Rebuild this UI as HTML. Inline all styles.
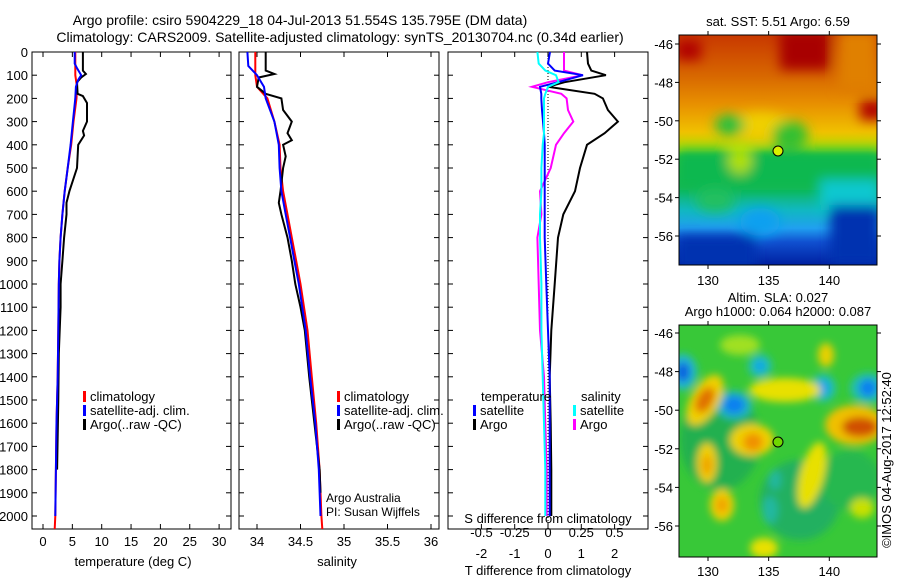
<!DOCTYPE html>
<html><head><meta charset="utf-8"><style>
body{margin:0;background:#fff;}
svg{display:block;font-family:"Liberation Sans",sans-serif;}
</style></head><body>
<svg id="c" width="900" height="580" viewBox="0 0 900 580" xmlns="http://www.w3.org/2000/svg">
<defs>
<filter id="bl" x="-50%" y="-50%" width="200%" height="200%"><feGaussianBlur stdDeviation="6"/></filter>
<filter id="bl2" x="-50%" y="-50%" width="200%" height="200%"><feGaussianBlur stdDeviation="4"/></filter>
<clipPath id="cm1"><rect x="679" y="35" width="198" height="230"/></clipPath>
<clipPath id="cm2"><rect x="679" y="325" width="198" height="232"/></clipPath>
<linearGradient id="sstg" x1="0" y1="0" x2="0" y2="1">
<stop offset="0" stop-color="#c83800"/><stop offset="0.18" stop-color="#d86800"/><stop offset="0.3" stop-color="#e89000"/>
<stop offset="0.42" stop-color="#f0c000"/><stop offset="0.5" stop-color="#b0e000"/><stop offset="0.53" stop-color="#30c830"/><stop offset="0.66" stop-color="#10b858"/>
<stop offset="0.76" stop-color="#10b8c0"/><stop offset="0.84" stop-color="#20a0f0"/><stop offset="0.9" stop-color="#1050d0"/><stop offset="1" stop-color="#0020a0"/>
</linearGradient>
</defs>
<text x="300" y="25" font-size="14" text-anchor="middle">Argo profile: csiro 5904229_18 04-Jul-2013 51.554S 135.795E (DM data)</text>
<text x="340" y="42" font-size="14" text-anchor="middle">Climatology: CARS2009. Satellite-adjusted climatology: synTS_20130704.nc (0.34d earlier)</text>
<g id="plots"></g>
<g id="maps">
 <g clip-path="url(#cm1)">
  <rect x="679" y="35" width="198" height="230" fill="url(#sstg)"/>
  <g filter="url(#bl)">
   <rect x="780" y="30" width="50" height="40" fill="#a80000"/>
   <rect x="676" y="40" width="25" height="20" fill="#b00000"/>
   <rect x="860" y="100" width="25" height="20" fill="#b00000"/>
   <rect x="838" y="30" width="40" height="60" fill="#e08000"/>
   <ellipse cx="760" cy="125" rx="30" ry="12" fill="#f0d000"/>
   <ellipse cx="730" cy="125" rx="15" ry="10" fill="#20c040"/>
   <ellipse cx="790" cy="135" rx="18" ry="14" fill="#30c030"/>
   <rect x="676" y="150" width="205" height="40" fill="#10b850"/>
   <ellipse cx="740" cy="160" rx="12" ry="14" fill="#b0e000"/>
   <rect x="820" y="180" width="60" height="30" fill="#10c8d0"/>
   <rect x="830" y="205" width="50" height="60" fill="#0030b0"/>
   <rect x="676" y="235" width="80" height="35" fill="#0030b0"/>
   <ellipse cx="760" cy="222" rx="20" ry="14" fill="#10a0f0"/>
   <ellipse cx="715" cy="200" rx="20" ry="12" fill="#20c060"/>
  </g>
  <circle cx="778" cy="151" r="5" fill="#d8f000" stroke="#000" stroke-width="1"/>
 </g>
 <rect x="679" y="35" width="198" height="230" fill="none" stroke="#000"/>
 <g clip-path="url(#cm2)">
  <rect x="679" y="325" width="198" height="232" fill="#38c838"/>
  <g filter="url(#bl2)">
   <ellipse cx="720" cy="440" rx="40" ry="50" fill="#20b050"/>
   <ellipse cx="800" cy="500" rx="40" ry="40" fill="#20b060"/>
   <ellipse cx="850" cy="480" rx="30" ry="30" fill="#28b850"/>
   <ellipse cx="683" cy="372" rx="14" ry="18" fill="#20b8d0"/>
   <ellipse cx="683" cy="372" rx="7" ry="10" fill="#1060e0"/>
   <ellipse cx="760" cy="366" rx="12" ry="12" fill="#20c0b0"/>
   <ellipse cx="760" cy="366" rx="5" ry="6" fill="#10a0f0"/>
   <ellipse cx="734" cy="405" rx="18" ry="14" fill="#20b8c0"/>
   <ellipse cx="734" cy="405" rx="11" ry="9" fill="#1080f0"/>
   <ellipse cx="823" cy="388" rx="13" ry="14" fill="#20c0b0"/>
   <ellipse cx="823" cy="388" rx="6" ry="8" fill="#10a0f0"/>
   <ellipse cx="868" cy="388" rx="18" ry="15" fill="#20c0b0"/>
   <ellipse cx="868" cy="388" rx="9" ry="9" fill="#1080f0"/>
   <ellipse cx="705" cy="400" rx="14" ry="28" fill="#f0d000" transform="rotate(30 705 400)"/>
   <ellipse cx="705" cy="400" rx="8" ry="14" fill="#e07000" transform="rotate(30 705 400)"/>
   <ellipse cx="785" cy="390" rx="36" ry="12" fill="#e8e000"/>
   <ellipse cx="752" cy="440" rx="22" ry="16" fill="#f0d000"/>
   <ellipse cx="753" cy="442" rx="10" ry="9" fill="#f09000"/>
   <ellipse cx="855" cy="425" rx="30" ry="20" fill="#f0c000"/>
   <ellipse cx="860" cy="427" rx="18" ry="10" fill="#d05000"/>
   <ellipse cx="812" cy="475" rx="12" ry="34" fill="#e8e000" transform="rotate(15 812 475)"/>
   <ellipse cx="707" cy="463" rx="10" ry="20" fill="#f0d000"/>
   <ellipse cx="707" cy="465" rx="5" ry="10" fill="#f0a000"/>
   <ellipse cx="722" cy="505" rx="12" ry="16" fill="#f0d000"/>
   <ellipse cx="722" cy="505" rx="6" ry="8" fill="#f0a000"/>
   <ellipse cx="764" cy="548" rx="14" ry="10" fill="#e8e000"/>
   <ellipse cx="826" cy="355" rx="8" ry="12" fill="#e8d000"/>
   <ellipse cx="862" cy="508" rx="12" ry="10" fill="#c8e000"/>
   <ellipse cx="740" cy="345" rx="20" ry="10" fill="#a0e020"/>
   <ellipse cx="770" cy="510" rx="8" ry="14" fill="#20b8a0"/>
   <ellipse cx="775" cy="480" rx="6" ry="10" fill="#20b8a0"/>
  </g>
  <circle cx="778" cy="442" r="5" fill="#70d800" stroke="#000" stroke-width="1"/>
 </g>
 <rect x="679" y="325" width="198" height="232" fill="none" stroke="#000"/>
 <text x="778" y="26" font-size="13" text-anchor="middle">sat. SST: 5.51  Argo: 6.59</text>
 <text x="778" y="302" font-size="13" text-anchor="middle">Altim. SLA: 0.027</text>
 <text x="778" y="316" font-size="13" text-anchor="middle">Argo h1000: 0.064 h2000: 0.087</text>
 <text x="0" y="0" font-size="13" text-anchor="middle" transform="translate(891 460) rotate(-90)">©IMOS 04-Aug-2017 12:52:40</text>
</g>
</svg>
<script>
const NS='http://www.w3.org/2000/svg';
// ---- data ----
const tDepth=[0,100,150,200,300,400,500,600,700,800,900,1000,1200,1400,1600,1800,2000,2056];
const tClim=[5.5,5.5,5.8,5.7,5.2,4.8,4.2,3.7,3.3,3.0,2.8,2.7,2.6,2.5,2.3,2.2,2.1,2.0];
const tSatDepth=[0,50,70,100,120,150,200,300,400,500,600,700,800,900,1000,1200,1400,1600,1800,2000];
const tSat=[5.4,5.4,5.8,6.5,6.0,5.6,5.5,5.1,4.7,4.2,3.7,3.3,3.0,2.8,2.7,2.6,2.5,2.3,2.2,2.1];
const argoDepth=[0,80,95,110,130,180,190,220,300,340,360,400,500,600,650,700,800,900,1000,1100,1300,1500,1800];
const tArgo=[6.8,6.8,7.3,6.5,5.8,5.9,6.8,7.5,7.5,6.8,7.0,6.0,5.8,4.5,4.0,4.0,3.6,3.3,3.0,3.0,2.7,2.6,2.4];
const sClim=[33.98,33.98,34.0,34.12,34.2,34.26,34.27,34.3,34.35,34.4,34.45,34.5,34.58,34.63,34.68,34.72,34.74,34.75];
const sSatDepth=[0,60,100,150,200,300,400,500,600,700,800,900,1000,1200,1400,1600,1800,2000];
const sSat=[33.89,33.9,34.0,34.08,34.1,34.2,34.25,34.26,34.28,34.33,34.38,34.43,34.48,34.56,34.61,34.67,34.71,34.73];
const sArgoDepth=[0,80,95,110,150,180,200,250,300,350,380,400,450,500,600,650,700,800,900,1000,1100,1200,1400,1600,1800,1900];
const sArgo=[34.1,34.1,34.2,34.02,34.0,34.1,34.28,34.3,34.4,34.35,34.4,34.3,34.33,34.3,34.27,34.25,34.28,34.35,34.4,34.44,34.5,34.55,34.6,34.66,34.72,34.73];
const dDepth=[0,50,80,100,130,150,180,200,250,300,350,400,500,600,700,800,1000,1200,1400,1600,1800,2000];
const dTSat=[0.06,0.0,0.2,1.05,0.3,-0.24,-0.2,-0.2,-0.18,-0.15,-0.12,-0.1,-0.1,-0.1,-0.1,-0.1,-0.05,0,0.05,0.05,0.05,0.05];
const dTArgo=[1.17,1.2,1.3,1.74,0.5,0.0,1.4,1.65,1.8,2.1,1.7,1.17,0.96,0.81,0.46,0.3,0.2,0.1,0.05,0.08,0.1,0.1];
const dSSat=[-0.08,-0.07,-0.02,0.06,0.08,0.0,-0.02,-0.03,-0.03,-0.03,-0.03,-0.04,-0.05,-0.05,-0.06,-0.06,-0.05,-0.05,-0.04,-0.03,-0.02,-0.02];
const dSArgo=[0.12,0.12,0.12,0.26,0.0,-0.12,0.1,0.14,0.15,0.19,0.12,0.06,0.02,-0.06,-0.05,-0.08,-0.07,-0.06,-0.03,-0.02,-0.01,-0.01];
const depthTicks=[0,100,200,300,400,500,600,700,800,900,1000,1100,1200,1300,1400,1500,1600,1700,1800,1900,2000];
const tTicks=[0,5,10,15,20,25,30];
const sTicks=[34,34.5,35,35.5,36];
const tdTicks=[-2,-1,0,1,2];
const sdTicks=[-0.5,-0.25,0,0.25,0.5];
const mapLatTicks=[-46,-48,-50,-52,-54,-56];
const mapLonTicks=[130,135,140];
// ---- axes ----
const yD=d=>52+d*0.232;
const xT=v=>43+v*5.87;
const xS=v=>257+(v-34)*87;
const xTD=v=>548+v*33.3;
const xSD=v=>548+v*133;
const root=document.getElementById('plots');
function el(tag,attrs,parent){const e=document.createElementNS(NS,tag);for(const k in attrs)e.setAttribute(k,attrs[k]);(parent||root).appendChild(e);return e;}
function txt(x,y,s,anchor,size){const t=el('text',{x:x,y:y,'font-size':size||13,'text-anchor':anchor||'middle'});t.textContent=s;return t;}
function line(xs,ds,xf,color,name){
  const pts=xs.map((v,i)=>xf(v).toFixed(1)+','+yD(ds[i]).toFixed(1)).join(' ');
  const p=el('polyline',{points:pts,fill:'none',stroke:color,'stroke-width':2});
  
  
}
function frame(x0,x1,name){
  const r=el('rect',{x:x0,y:52,width:x1-x0,height:477,fill:'none',stroke:'#000'});
  
  
  depthTicks.forEach(d=>{el('line',{x1:x0,x2:x0+5,y1:yD(d),y2:yD(d),stroke:'#000'});el('line',{x1:x1-5,x2:x1,y1:yD(d),y2:yD(d),stroke:'#000'});});
}
function xticks(ticks,xf,y,name){
  ticks.forEach(v=>{const x=xf(v);el('line',{x1:x,x2:x,y1:529,y2:524,stroke:'#000'});el('line',{x1:x,x2:x,y1:52,y2:57,stroke:'#000'});
    const t=txt(x,y,String(v));});
}
// panel 1
frame(32,231,'temperature-panel');
depthTicks.forEach(d=>{const t=txt(28,yD(d)+5,String(d),'end');});
xticks(tTicks,xT,546,'temperature-tick-label');
let t1=txt(133,566,'temperature (deg C)');
line(tClim,tDepth,xT,'#f00','temp-climatology-line');
line(tArgo,argoDepth,xT,'#000','temp-argo-line');
line(tSat,tSatDepth,xT,'#00f','temp-satellite-line');
// panel 2
frame(239,439,'salinity-panel');
xticks(sTicks,xS,546,'salinity-tick-label');
let t2=txt(337,566,'salinity');
line(sClim,tDepth,xS,'#f00','sal-climatology-line');
line(sArgo,sArgoDepth,xS,'#000','sal-argo-line');
line(sSat,sSatDepth,xS,'#00f','sal-satellite-line');
let ta=txt(326,502,'Argo Australia','start',12);
let tb=txt(326,516,'PI: Susan Wijffels','start',12);
// panel 3
frame(448,648,'difference-panel');
xticks(tdTicks,xTD,558,'t-diff-tick-label');
sdTicks.forEach(v=>{const t=txt(xSD(v),537,String(v));});
let t3=txt(548,523,'S difference from climatology');
let t4=txt(548,575,'T difference from climatology');
const zl=el('line',{x1:548,x2:548,y1:52,y2:529,stroke:'#000','stroke-dasharray':'1,2'});


line(dSArgo,dDepth,xSD,'#f0f','s-diff-argo-line');
line(dTArgo,dDepth,xTD,'#000','t-diff-argo-line');
line(dTSat,dDepth,xTD,'#00f','t-diff-satellite-line');
line(dSSat,dDepth,xSD,'#0ff','s-diff-satellite-line');
// legends
function legend(x,y,color,label,name){
  const b=el('rect',{x:x,y:y-10,width:3,height:11,fill:color});
  const t=txt(x+7,y,label,'start');
  const g=el('g',{});g.appendChild(b);g.appendChild(t);
  
  
}
legend(83,401,'#f00','climatology','legend-climatology');
legend(83,415,'#00f','satellite-adj. clim.','legend-satellite');
legend(83,429,'#000','Argo(..raw -QC)','legend-argo');
legend(337,401,'#f00','climatology','legend-sal-climatology');
legend(337,415,'#00f','satellite-adj. clim.','legend-sal-satellite');
legend(337,429,'#000','Argo(..raw -QC)','legend-sal-argo');
let lt=txt(481,401,'temperature','start');
let ls=txt(581,401,'salinity','start');
legend(473,415,'#00f','satellite','legend-t-satellite');
legend(473,429,'#000','Argo','legend-t-argo');
legend(573,415,'#0ff','satellite','legend-s-satellite');
legend(573,429,'#f0f','Argo','legend-s-argo');
// map axes
function mapAxes(top,bot,lat46,lat56,labY){
  const yl=v=>lat46+(v+46)/-10*(lat56-lat46);
  const xl=v=>708+(v-130)*12.13;
  mapLatTicks.forEach(v=>{const y=yl(v);el('line',{x1:679,x2:675,y1:y,y2:y,stroke:'#000'});el('line',{x1:877,x2:881,y1:y,y2:y,stroke:'#000'});
    const t=txt(673,y+5,String(v),'end');});
  mapLonTicks.forEach(v=>{const x=xl(v);el('line',{x1:x,x2:x,y1:bot,y2:bot+4,stroke:'#000'});el('line',{x1:x,x2:x,y1:top,y2:top-4,stroke:'#000'});
    const t=txt(x,labY,String(v));});
}
mapAxes(35,265,44,236,285);
mapAxes(325,557,333,526,576);
</script>
</body></html>
